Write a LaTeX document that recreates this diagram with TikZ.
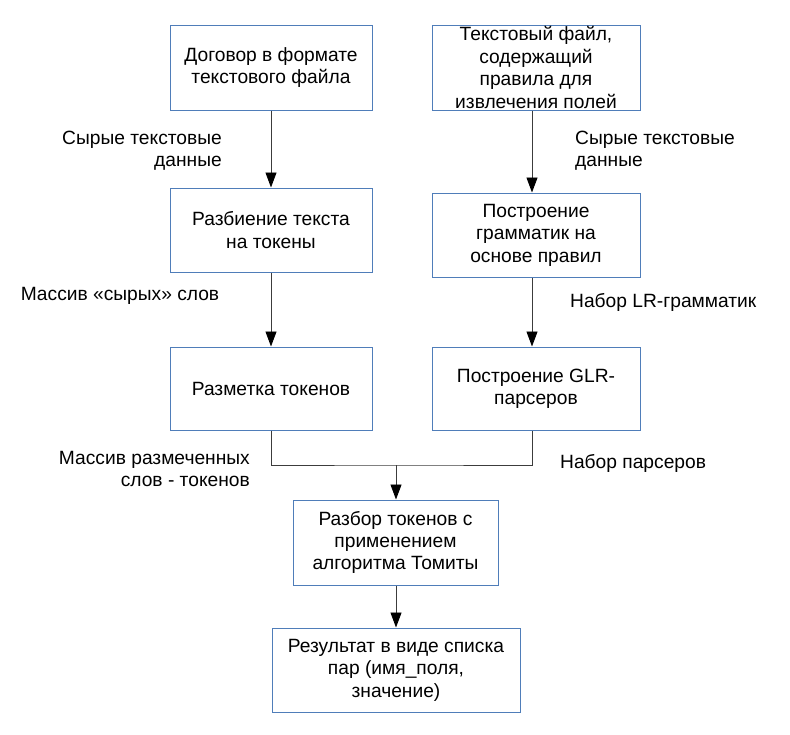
\documentclass[tikz,border=0pt]{standalone}
\usepackage{fontspec}
\setmainfont{Liberation Sans}
\usetikzlibrary{arrows.meta}
\definecolor{boxline}{RGB}{79,125,185}
\definecolor{wireline}{RGB}{60,60,60}
\begin{document}
\begin{tikzpicture}[x=1pt, y=-1pt,
        every node/.style={font=\fontsize{19.2}{22.4}\selectfont},
        stage/.style={rectangle, draw=boxline, line width=1pt, fill=white, align=center, inner sep=0pt},
        note/.style={inner sep=0pt},
        flow/.style={-{Triangle[length=15pt, width=11pt, color=black]}, draw=wireline, line width=0.9pt},
        wire/.style={draw=wireline, line width=0.9pt}
    ]
        \useasboundingbox (0,0) rectangle (790,734);

        % Left column
        \node[stage, minimum width=202pt, minimum height=85pt] (contract) at (271,67.5) {Договор в формате\\текстового файла};
        \node[stage, minimum width=202pt, minimum height=84pt] (split) at (271,230) {Разбиение текста\\на токены};
        \node[stage, minimum width=202pt, minimum height=83pt] (markup) at (271,388.5) {Разметка токенов};

        % Right column
        \node[stage, minimum width=208pt, minimum height=85pt] (rules) at (536,67.5) {Текстовый файл,\\содержащий\\правила для\\извлечения полей};
        \node[stage, minimum width=208pt, minimum height=84pt] (grammar) at (536,235) {Построение\\грамматик на\\основе правил};
        \node[stage, minimum width=208pt, minimum height=83pt] (glr) at (536,388.5) {Построение GLR-\\парсеров};

        % Bottom
        \node[stage, minimum width=205pt, minimum height=85pt] (tomita) at (395.5,542.5) {Разбор токенов с\\применением\\алгоритма Томиты};
        \node[stage, minimum width=248pt, minimum height=84pt] (result) at (396,670) {Результат в виде списка\\пар (имя\_поля,\\значение)};

        % Labels
        \node[note, align=right, anchor=east] (rawl) at (222,151) {Сырые текстовые\\данные};
        \node[note, align=left, anchor=west] (rawr) at (575,151) {Сырые текстовые\\данные};
        \node[note, anchor=center] (words) at (120,296) {Массив «сырых» слов};
        \node[note, anchor=west] (lrset) at (570,302) {Набор LR-грамматик};
        \node[note, align=right, anchor=east] (tokens) at (250,469) {Массив размеченных\\слов - токенов};
        \node[note, anchor=west] (parsers) at (560,463) {Набор парсеров};

        \coordinate (join) at (396,465);

        \draw[flow] (contract.south -| 271,0) -- (split.north -| 271,0);
        \draw[flow] (split.south -| 271,0) -- (markup.north -| 271,0);
        \draw[flow] (rules.south -| 532,0) -- (grammar.north -| 532,0);
        \draw[flow] (grammar.south -| 532,0) -- (glr.north -| 532,0);
        \draw[wire] (markup.south -| 271,0) |- (join) -| (glr.south -| 532,0);
        \draw[flow] (join) -- (tomita.north -| join);
        \draw[flow] (tomita.south -| join) -- (result.north -| join);
    \end{tikzpicture}
\end{document}
